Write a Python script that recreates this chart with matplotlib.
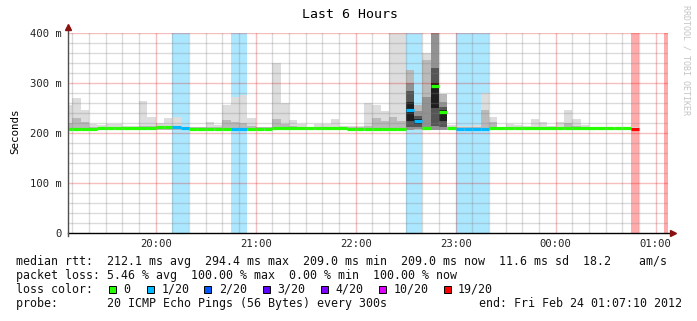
import numpy as np
import matplotlib.pyplot as plt
from matplotlib.patches import Rectangle

nan = np.nan

# 5-minute bins, minutes after 19:00, first bin starts at 19:05
bin_start = np.arange(5, 370, 5)
bin_width = 5

# median rtt per bin (ms)
median_ms = [
    209, 209, 209, 209, 210, 210, 210, 210, 210, 210, 211,
    212, 212, 212, 211, 209, 209, 209, 209, 209, 209, 209, 209,
    209, 209, 210, 210, 210, 210, 210, 210, 210, 211, 210, 209,
    209, 209, 209, 209, 209, 209, 246, 224, 210, 295, 243, 210,
    209, 209, 209, 209, 210, 210, 210, 210, 210, 210, 210, 210,
    210, 210, 210, 210, 210, 210, 210, 210, 210, 209, nan, nan,
    nan, nan,
]
# slowest ping per bin (ms)
smoke_max = [
    256, 271, 246, 219, 216, 218, 218, 215, 215, 264, 233,
    221, 230, 233, 215, 213, 213, 222, 216, 257, 272, 276, 230,
    213, 213, 341, 261, 227, 219, 213, 218, 218, 228, 215, 215,
    215, 261, 256, 245, 420, 420, 327, 256, 361, 420, 279, 216,
    214, 214, 216, 281, 232, 213, 219, 216, 215, 228, 222, 215,
    222, 246, 228, 216, 213, 213, 213, 211, 211, 212, nan, nan,
    nan, nan,
]
# upper edge of the denser smoke (ms)
smoke_upper = [
    220, 231, 222, 213, 213, 213, 213, 213, 213, 215, 214,
    215, 215, 215, 213, 213, 213, 213, 213, 226, 222, 220, 214,
    212, 212, 229, 218, 214, 213, 213, 213, 213, 213, 213, 213,
    213, 215, 230, 225, 233, 225, 327, 256, 346, 420, 279, 212,
    212, 212, 212, 247, 222, 213, 213, 213, 213, 213, 213, 213,
    213, 220, 214, 213, 212, 212, 212, 211, 211, 211, nan, nan,
    nan, nan,
]
# fastest ping per bin (ms)
smoke_min = [
    206, 206, 206, 206, 206, 206, 206, 206, 206, 206, 206,
    206, 206, 206, 206, 206, 206, 206, 206, 206, 206, 206, 206,
    206, 206, 206, 206, 206, 206, 206, 206, 206, 206, 206, 206,
    206, 206, 206, 206, 206, 206, 207, 207, 207, 207, 207, 206,
    206, 206, 206, 206, 206, 206, 206, 206, 206, 206, 206, 206,
    206, 206, 206, 206, 206, 206, 206, 206, 206, 206, nan, nan,
    nan, nan,
]
# lost pings out of 20
loss = [
    0, 0, 0, 0, 0, 0, 0, 0, 0, 0, 0,
    0, 0, 1, 1, 0, 0, 0, 0, 0, 1, 1, 0,
    0, 0, 0, 0, 0, 0, 0, 0, 0, 0, 0, 0,
    0, 0, 0, 0, 0, 0, 1, 1, 0, 0, 0, 0,
    1, 1, 1, 1, 0, 0, 0, 0, 0, 0, 0, 0,
    0, 0, 0, 0, 0, 0, 0, 0, 0, 19, nan, nan,
    nan, 20,
]

# darker smoke layers in the 22:30-22:55 spike
spike_start = [210, 215, 220, 225, 230]
dark_lo = [207, 208, 207, 207, 207]
dark_hi = [300, 245, 273, 420, 262]
darker_lo = [212, 212, nan, 215, 212]
darker_hi = [285, 235, nan, 330, 252]
core_lo = [225, 218, nan, 250, 225]
core_hi = [262, 229, nan, 300, 247]

hour_ticks = [60, 120, 180, 240, 300, 360]
hour_labels = ["20:00", "21:00", "22:00", "23:00", "00:00", "01:00"]
rtt_ticks = [0, 100, 200, 300, 400]
rtt_labels = ["0", "100 m", "200 m", "300 m", "400 m"]

loss_steps = [0, 1, 2, 3, 4, 10, 19]
loss_colors = ["#26ff00", "#00b8ff", "#0059ff", "#5e00ff", "#7e00ff", "#dd00ff", "#ff0000"]
legend_labels = ["0", "1/20", "2/20", "3/20", "4/20", "10/20", "19/20"]


def loss_color(n):
    c = loss_colors[0]
    for step, col in zip(loss_steps, loss_colors):
        if n >= step:
            c = col
    return c


W, H = 697, 321
mono = "DejaVu Sans Mono"
plt.rcParams["font.family"] = mono

fig = plt.figure(figsize=(W / 100, H / 100), dpi=100)
ax = fig.add_axes([67.7 / W, 88 / H, 600 / W, 200 / H])
x0, x1 = 7.1667, 367.1667
ax.set_xlim(x0, x1)
ax.set_ylim(0, 400)

median_ms = np.array(median_ms, float)
smoke_max = np.array(smoke_max, float)
smoke_upper = np.array(smoke_upper, float)
smoke_min = np.array(smoke_min, float)
loss = np.array(loss, float)

# loss background bands
lossy = np.nan_to_num(loss) >= 1
ax.bar(bin_start[lossy], 400, bottom=0, width=bin_width, align="edge",
       color=[loss_color(n) for n in loss[lossy]], alpha=0.33, lw=0, zorder=1)

# smoke
ax.bar(bin_start, smoke_max - smoke_min, bottom=smoke_min, width=bin_width,
       align="edge", color="#dddddd", lw=0, zorder=2)
ax.bar(bin_start, smoke_upper - smoke_min, bottom=smoke_min, width=bin_width,
       align="edge", color="#bababa", lw=0, zorder=2)
spike_start = np.array(spike_start, float)
for lo, hi, col in [(dark_lo, dark_hi, "#929292"),
                    (darker_lo, darker_hi, "#555555"),
                    (core_lo, core_hi, "#1e1e1e")]:
    lo = np.array(lo, float)
    hi = np.array(hi, float)
    ok = ~np.isnan(lo)
    ax.bar(spike_start[ok], hi[ok] - lo[ok], bottom=lo[ok], width=bin_width,
           align="edge", color=col, lw=0, zorder=2)

# grid on top
for m in range(10, 367, 10):
    if m % 60:
        ax.axvline(m, color=(0.5, 0.5, 0.5, 0.28), lw=1, zorder=3)
for v in range(20, 400, 20):
    if v % 100:
        ax.axhline(v, color=(0.5, 0.5, 0.5, 0.28), lw=1, zorder=3)
for m in hour_ticks:
    ax.axvline(m, color=(0.85, 0.0, 0.0, 0.25), lw=1, zorder=3)
for v in rtt_ticks[1:]:
    ax.axhline(v, color=(0.85, 0.0, 0.0, 0.25), lw=1, zorder=3)

# median line coloured by loss
ok = ~np.isnan(median_ms)
ax.hlines(median_ms[ok], bin_start[ok], bin_start[ok] + bin_width,
          colors=[loss_color(n) for n in loss[ok]], lw=2.3, zorder=4,
          capstyle="butt")

# axes
for s in ["top", "right", "left", "bottom"]:
    ax.spines[s].set_visible(False)
ax.plot([x0, x1 + 1.5], [0, 0], color="black", lw=1, clip_on=False, zorder=5)
ax.plot([x0, x0], [-6, 410], color="#505050", lw=1, clip_on=False, zorder=5)
ax.plot([x0], [412], marker="^", ms=4.5, color="#8b1010", clip_on=False, zorder=6)
ax.plot([x1 + 3], [0], marker=">", ms=4.5, color="#8b1010", clip_on=False, zorder=6)

ax.set_xticks(hour_ticks)
ax.set_xticklabels(hour_labels)
ax.set_yticks(rtt_ticks)
ax.set_yticklabels(rtt_labels)
ax.tick_params(length=0, labelsize=7.6, colors="#222222")
ax.tick_params(axis="x", pad=4)
ax.tick_params(axis="y", pad=4.5)


def fx(x):
    return x / W


def fy(y):
    return 1 - y / H


fig.text(fx(349.5), fy(15), "Last 6 Hours", ha="center", va="center", fontsize=9.5)
fig.text(fx(15), fy(131), "Seconds", ha="center", va="center", rotation=90, fontsize=7.8)
fig.text(fx(686), fy(60), "RRDTOOL / TOBI OETIKER", ha="center", va="center",
         rotation=270, fontsize=6, color="#c4c4c4")

fs = 8.4
tc = "#111111"
fig.text(fx(16.4), fy(262),
         "median rtt:  212.1 ms avg  294.4 ms max  209.0 ms min  209.0 ms now"
         "  11.6 ms sd  18.2    am/s",
         ha="left", va="center", fontsize=fs, color=tc)
fig.text(fx(16.4), fy(275.5),
         "packet loss: 5.46 % avg  100.00 % max  0.00 % min  100.00 % now",
         ha="left", va="center", fontsize=fs, color=tc)
fig.text(fx(16.4), fy(289.5), "loss color:", ha="left", va="center",
         fontsize=fs, color=tc)
fig.text(fx(16.4), fy(303.5),
         "probe:       20 ICMP Echo Pings (56 Bytes) every 300s",
         ha="left", va="center", fontsize=fs, color=tc)
fig.text(fx(478.7), fy(303.5), "end: Fri Feb 24 01:07:10 2012",
         ha="left", va="center", fontsize=fs, color=tc)

box_x = [108.9, 146.7, 204.4, 263.1, 320.9, 378.7, 443.6]
for bx, lab, col in zip(box_x, legend_labels, loss_colors):
    fig.add_artist(Rectangle((fx(bx), fy(293.3)), 7 / W, 7 / H,
                             transform=fig.transFigure, facecolor=col,
                             edgecolor="black", lw=0.7))
    fig.text(fx(bx + 14.5), fy(289.5), lab, ha="left", va="center", fontsize=fs,
             color=tc)

fig.savefig("out.png", dpi=100)
